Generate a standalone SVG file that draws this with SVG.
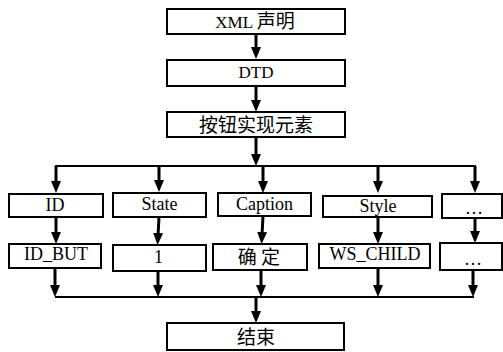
<svg xmlns="http://www.w3.org/2000/svg" width="503" height="352" viewBox="0 0 503 352">
  <style>
    .box { fill: #ffffff; stroke: #000000; stroke-width: 2; }
    .conn { stroke: #000000; stroke-width: 3; fill: none; }
    .bus { stroke: #000000; stroke-width: 2; fill: none; }
  </style>
  <defs>
    <marker id="arr" viewBox="0 0 12 10" refX="3" refY="5" markerWidth="12" markerHeight="10" markerUnits="userSpaceOnUse" orient="auto">
      <path d="M0,0 L12,5 L0,10 z" fill="#000000"/>
    </marker>
  </defs>

  <g id="connectors">
    <line class="conn" x1="256" y1="34" x2="256" y2="50" marker-end="url(#arr)"/>
    <line class="conn" x1="256" y1="86" x2="256" y2="103" marker-end="url(#arr)"/>
    <line class="conn" x1="256" y1="137" x2="256" y2="157" marker-end="url(#arr)"/>
    <line class="bus" x1="55" y1="166" x2="476" y2="166"/>
    <line class="conn" x1="56" y1="166" x2="56" y2="184" marker-end="url(#arr)"/>
    <line class="conn" x1="159" y1="166" x2="159" y2="183" marker-end="url(#arr)"/>
    <line class="conn" x1="263" y1="166" x2="263" y2="184" marker-end="url(#arr)"/>
    <line class="conn" x1="378" y1="166" x2="378" y2="184" marker-end="url(#arr)"/>
    <line class="conn" x1="475" y1="166" x2="475" y2="184" marker-end="url(#arr)"/>
    <line class="conn" x1="56" y1="217" x2="56" y2="235" marker-end="url(#arr)"/>
    <line class="conn" x1="159" y1="217" x2="158" y2="236" marker-end="url(#arr)"/>
    <line class="conn" x1="263" y1="216" x2="262" y2="235" marker-end="url(#arr)"/>
    <line class="conn" x1="378" y1="217" x2="378" y2="235" marker-end="url(#arr)"/>
    <line class="conn" x1="475" y1="218" x2="475" y2="234" marker-end="url(#arr)"/>
    <line class="conn" x1="55" y1="268" x2="55" y2="288" marker-end="url(#arr)"/>
    <line class="conn" x1="158" y1="270" x2="158" y2="288" marker-end="url(#arr)"/>
    <line class="conn" x1="261" y1="270" x2="261" y2="288" marker-end="url(#arr)"/>
    <line class="conn" x1="378" y1="268" x2="378" y2="288" marker-end="url(#arr)"/>
    <line class="conn" x1="473" y1="270" x2="473" y2="288" marker-end="url(#arr)"/>
    <line class="bus" x1="55" y1="297" x2="474" y2="297"/>
    <line class="conn" x1="256" y1="297" x2="256" y2="314" marker-end="url(#arr)"/>
  </g>

  <g id="n-xml">
    <rect class="box" x="167" y="9" width="178" height="25"/>
    <text x="255" y="28" font-family="Liberation Serif, serif" font-size="17" text-anchor="middle">XML <tspan font-family="Noto Sans CJK SC, sans-serif" font-size="19">声明</tspan></text>
  </g>
  <g id="n-dtd">
    <rect class="box" x="167" y="60" width="178" height="26"/>
    <text x="256" y="78" font-family="Liberation Serif, serif" font-size="17" text-anchor="middle">DTD</text>
  </g>
  <g id="n-button">
    <rect class="box" x="167" y="112" width="178" height="25"/>
    <text x="256" y="132" font-family="Noto Sans CJK SC, sans-serif" font-size="19" text-anchor="middle">按钮实现元素</text>
  </g>

  <g id="n-id">
    <rect class="box" x="9" y="194" width="94" height="23"/>
    <text x="55" y="211" font-family="Liberation Serif, serif" font-size="18" text-anchor="middle">ID</text>
  </g>
  <g id="n-state">
    <rect class="box" x="113" y="193" width="93" height="24"/>
    <text x="159.5" y="210" font-family="Liberation Serif, serif" font-size="18" text-anchor="middle">State</text>
  </g>
  <g id="n-caption">
    <rect class="box" x="218" y="193" width="93" height="23"/>
    <text x="264.5" y="210" font-family="Liberation Serif, serif" font-size="18" text-anchor="middle">Caption</text>
  </g>
  <g id="n-style">
    <rect class="box" x="323" y="196" width="109" height="21"/>
    <text x="378" y="212" font-family="Liberation Serif, serif" font-size="18" text-anchor="middle">Style</text>
  </g>
  <g id="n-more1">
    <rect class="box" x="442" y="194" width="60" height="24"/>
    <text x="474" y="214" font-family="Liberation Serif, serif" font-size="18" text-anchor="middle">…</text>
  </g>

  <g id="n-id-but">
    <rect class="box" x="9" y="244" width="92" height="24"/>
    <text x="56" y="260" font-family="Liberation Serif, serif" font-size="18" text-anchor="middle">ID_BUT</text>
  </g>
  <g id="n-one">
    <rect class="box" x="113" y="245" width="93" height="26"/>
    <text x="158.5" y="263" font-family="Liberation Serif, serif" font-size="18" text-anchor="middle">1</text>
  </g>
  <g id="n-ok">
    <rect class="box" x="213" y="244" width="94" height="26"/>
    <text x="259" y="264" font-family="Noto Sans CJK SC, sans-serif" font-size="19" text-anchor="middle" xml:space="preserve">确 定</text>
  </g>
  <g id="n-ws-child">
    <rect class="box" x="319" y="244" width="111" height="24"/>
    <text x="375" y="260" font-family="Liberation Serif, serif" font-size="18" text-anchor="middle">WS_CHILD</text>
  </g>
  <g id="n-more2">
    <rect class="box" x="440" y="243" width="62" height="27"/>
    <text x="473" y="265" font-family="Liberation Serif, serif" font-size="18" text-anchor="middle">…</text>
  </g>

  <g id="n-end">
    <rect class="box" x="167" y="323" width="177" height="27"/>
    <text x="256" y="344" font-family="Noto Sans CJK SC, sans-serif" font-size="19" text-anchor="middle">结束</text>
  </g>
</svg>
